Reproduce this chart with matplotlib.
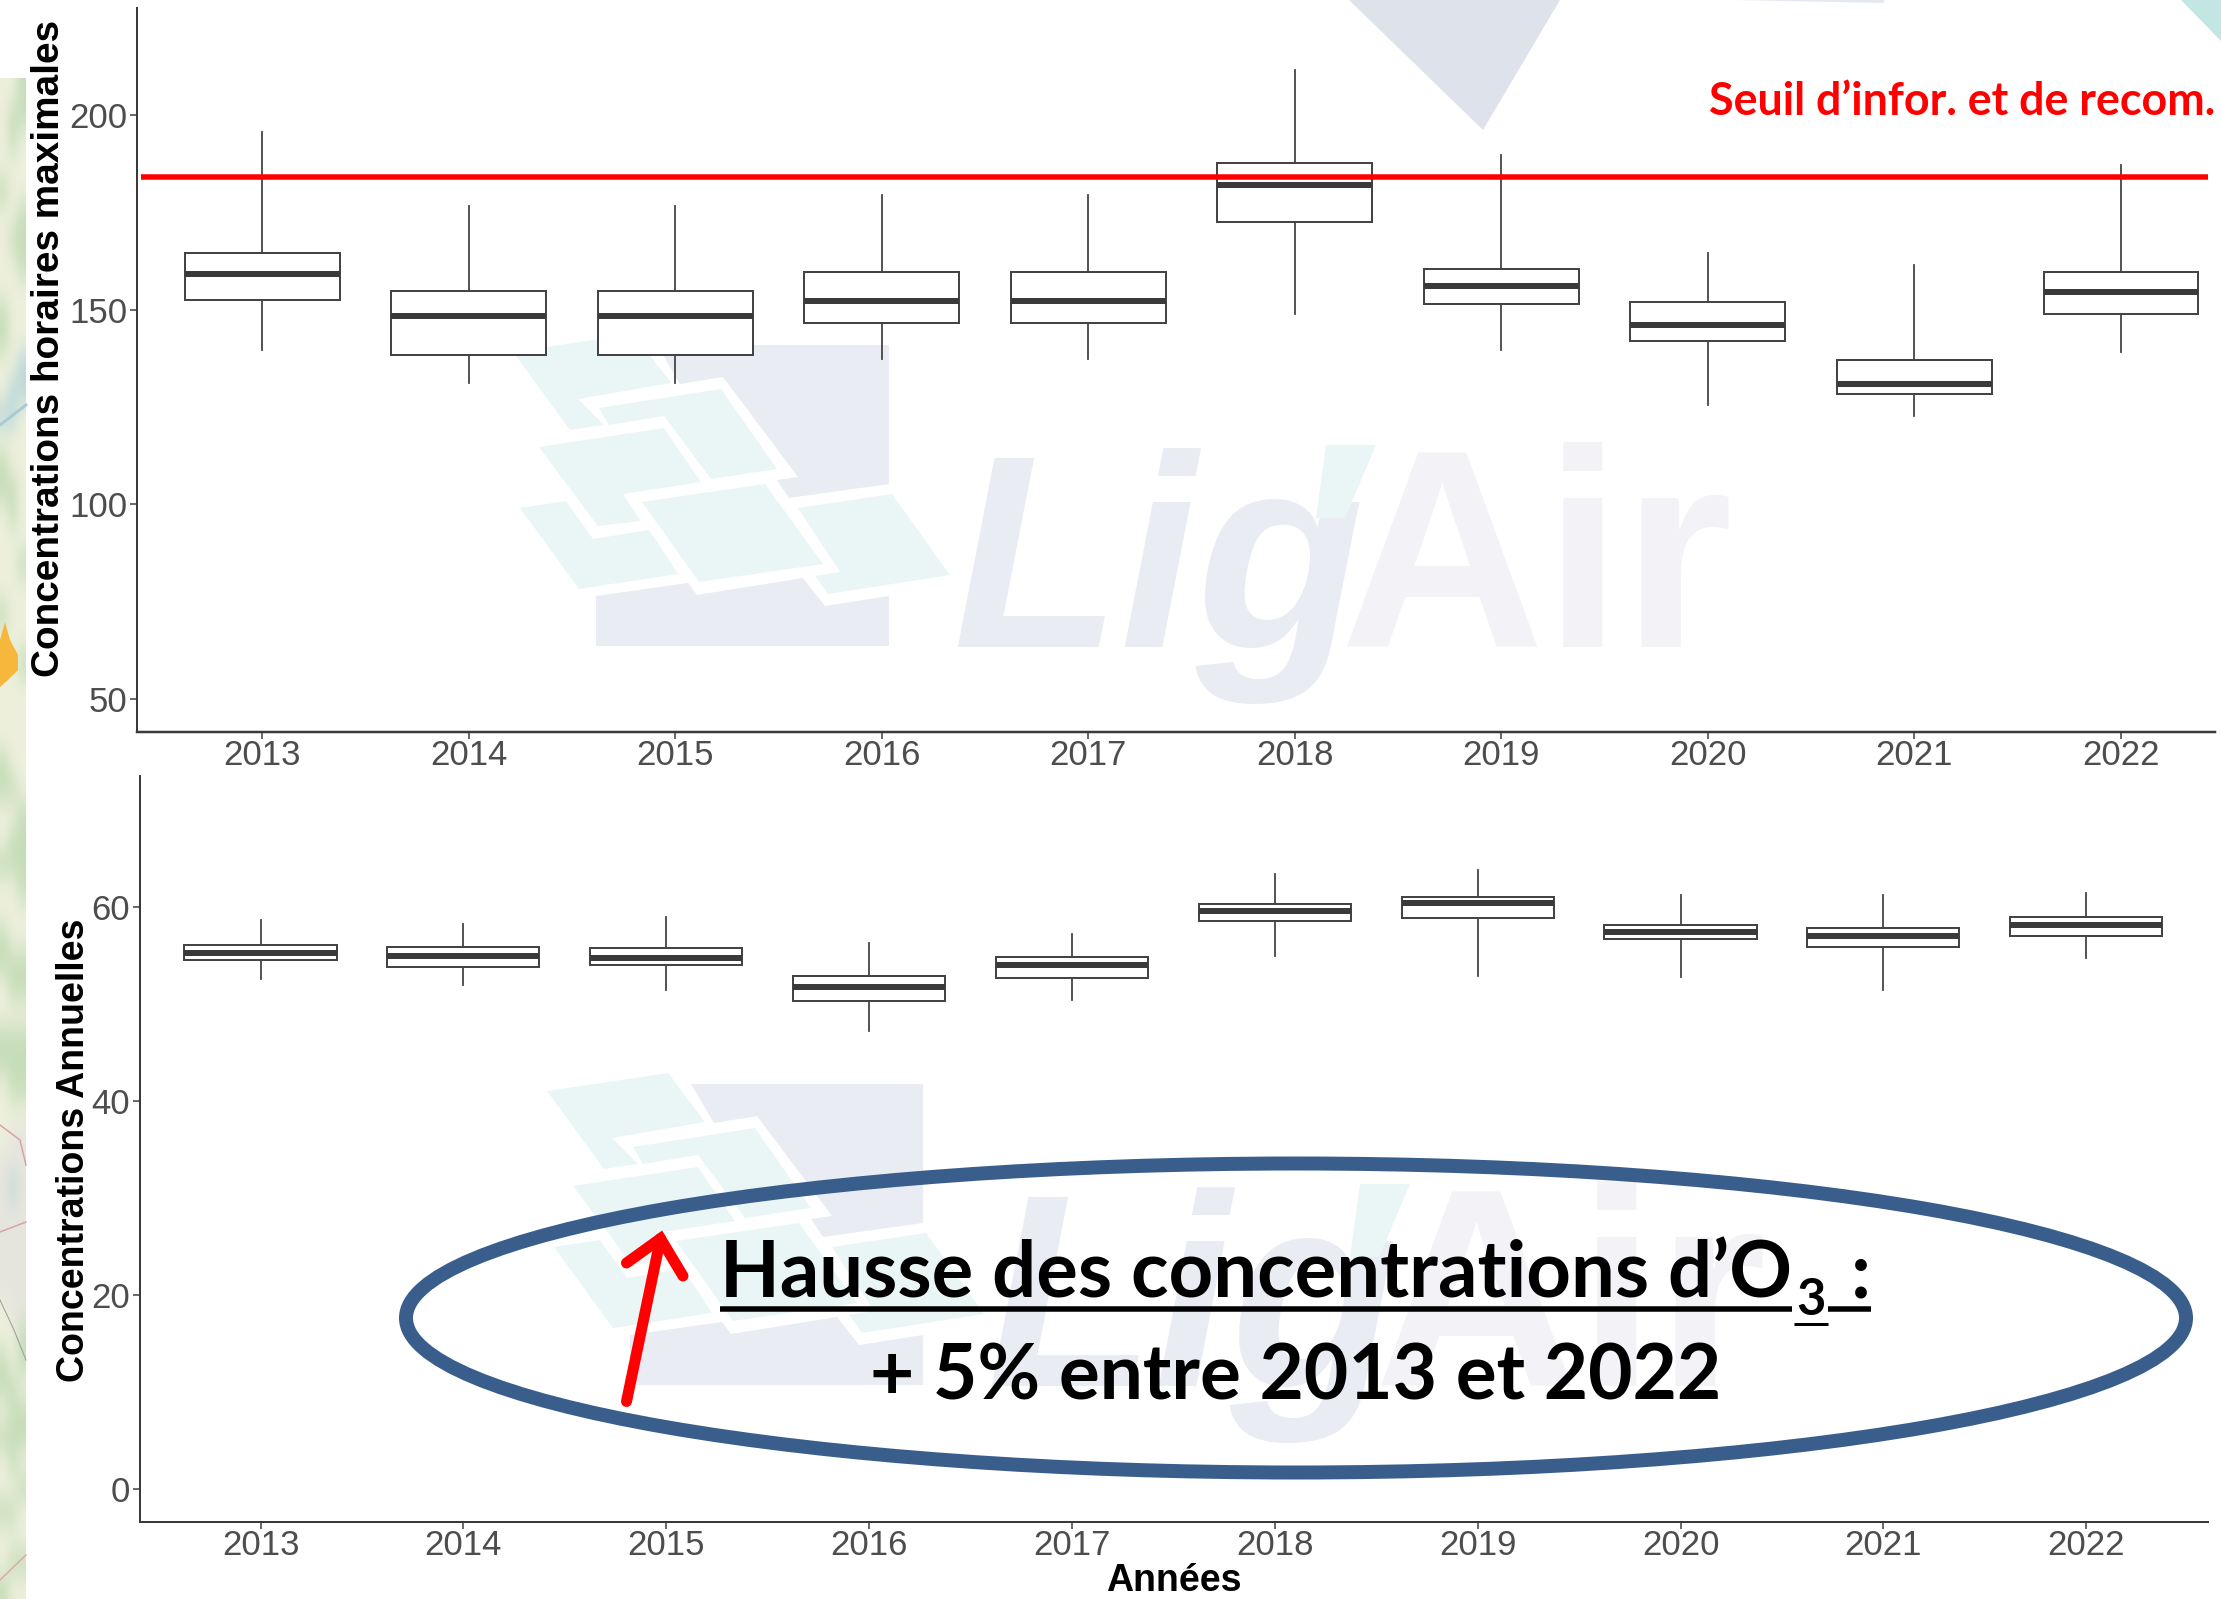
import matplotlib
matplotlib.use("Agg")
import matplotlib.pyplot as plt
import numpy as np
from matplotlib.patches import Ellipse, Polygon

# donnees
annees = ["2013", "2014", "2015", "2016", "2017", "2018", "2019", "2020", "2021", "2022"]

h_max = [195.6, 176.8, 176.8, 179.6, 179.6, 211.6, 189.8, 164.7, 161.5, 187.3]
h_q3 = [164.7, 154.8, 154.8, 159.7, 159.7, 187.7, 160.6, 152.0, 137.2, 159.7]
h_med = [159.3, 148.3, 148.3, 152.3, 152.3, 182.0, 156.0, 146.1, 130.9, 154.6]
h_q1 = [152.6, 138.3, 138.3, 146.5, 146.5, 172.5, 151.5, 141.9, 128.3, 148.9]
h_min = [139.7, 131.1, 131.1, 137.3, 137.3, 148.8, 139.7, 125.4, 122.6, 139.2]
seuil = 184.1

a_max = [58.65, 58.3, 59.0, 56.3, 57.2, 63.4, 63.8, 61.2, 61.2, 61.4]
a_q3 = [56.07, 55.9, 55.75, 52.9, 54.9, 60.3, 61.0, 58.1, 57.8, 59.0]
a_med = [55.26, 55.0, 54.8, 51.8, 54.0, 59.6, 60.4, 57.4, 57.0, 58.2]
a_q1 = [54.56, 53.8, 54.0, 50.3, 52.7, 58.6, 58.9, 56.7, 55.9, 57.0]
a_min = [52.6, 52.0, 51.5, 47.2, 50.4, 55.0, 52.9, 52.8, 51.5, 54.8]

# bandeau de carte a gauche : p = pale, v = vert, g = gris, b = bleu
carte = ["ppv", "pvv", "pvp", "ppp", "vpp", "ppv", "pvv", "ppv", "ppp", "vpp",
         "vpp", "ppb", "pbb", "bbp", "ppp", "vpp", "vvp", "pvp", "ppp", "ppv",
         "ppp", "vpp", "ppp", "ppv", "ppp", "ppp", "ppp", "vpp", "vvp", "ppv",
         "pvv", "vvv", "ppv", "ppp", "vpp", "vvv", "pvv", "ppp", "vvv", "vvv",
         "pvv", "ppp", "pgg", "ggg", "gbg", "ggg", "ggg", "ggg", "ggg", "pgg",
         "ppv", "vpv", "vvp", "pvv", "vvv", "pvp", "ppv", "vvp", "ppp", "pvv", "vpp"]

W, H = 2221, 1599
GRIS = "#3A3A3A"
TICK = "#4D4D4D"
NAVY = "#E9ECF3"
TEAL = "#EAF6F6"
px = 0.72  # 1 pixel en points a dpi=100

plt.rcParams["font.family"] = ["Liberation Sans", "DejaVu Sans"]
fig = plt.figure(figsize=(W / 100, H / 100), dpi=100, facecolor="white")


def axes_px(left, top, right, bottom):
    return fig.add_axes([left / W, 1 - bottom / H, (right - left) / W, (bottom - top) / H])


# fond : carte a gauche, filigrane, triangles du masque
fond = axes_px(0, 0, W, H)
fond.axis("off")
fond.set_zorder(0)

couleurs = {"p": (0.93, 0.94, 0.86), "v": (0.78, 0.87, 0.73), "g": (0.90, 0.90, 0.87), "b": (0.74, 0.85, 0.85)}
img = np.array([[couleurs[c] for c in ligne] for ligne in carte])
fond.imshow(img, extent=(0, 26, H, 78), aspect="auto", interpolation="bicubic", zorder=1)
fond.set_xlim(0, W)
fond.set_ylim(H, 0)

fond.plot([0, 26], [425, 405], color="#A9CBD2", lw=3 * px, zorder=3)
fond.plot([0, 26], [1232, 1222], color="#D9A0A8", lw=1.5 * px, zorder=3)
fond.plot([0, 20, 26], [1125, 1140, 1165], color="#D9A0A8", lw=1.5 * px, zorder=3)
fond.plot([0, 14, 26], [1300, 1330, 1360], color="#9A9A9A", lw=1 * px, zorder=3)
fond.plot([0, 26], [1580, 1555], color="#E0A8A8", lw=1.5 * px, zorder=3)
fond.add_patch(Polygon([(0, 640), (5, 622), (10, 640), (18, 655), (18, 670), (8, 680), (0, 687)],
                       color="#F5B73C", lw=0, zorder=3))

fond.add_patch(Polygon([(1349, 0), (1560, 0), (1483, 130)], color="#DDE2EB", lw=0))
fond.add_patch(Polygon([(2181, 0), (2221, 0), (2221, 41)], color="#C3E6E4", lw=0))
fond.add_patch(Polygon([(1733, 0), (1884, 0), (1884, 3)], color="#E4E8EF", lw=0))

# logo, coordonnees en pixels du logo du haut
navy_logo = [
    [(657, 345), (889, 345), (889, 484), (789, 498), (777, 480), (798, 477), (723, 377), (680, 384)],
    [(596, 596), (688, 583), (697, 595), (803, 578), (825, 606), (889, 596), (889, 646), (596, 646)],
]
tuiles = [
    [(513, 352), (634, 334), (671, 383), (578, 399), (604, 425), (570, 430)],
    [(599, 408), (721, 389), (777, 469), (711, 479), (664, 416), (609, 425)],
    [(539, 447), (664, 428), (701, 482), (623, 494), (641, 521), (598, 526)],
    [(520, 508), (566, 501), (593, 539), (649, 530), (678, 574), (579, 589)],
    [(642, 502), (765, 484), (823, 564), (699, 582)],
    [(798, 508), (892, 494), (950, 575), (828, 594), (815, 576), (840, 572)],
]
for dx, dy in [(0, 0), (34, 739)]:
    for pts in navy_logo:
        fond.add_patch(Polygon([(x + dx, y + dy) for x, y in pts], color=NAVY, lw=0))
    for pts in tuiles:
        fond.add_patch(Polygon([(x + dx, y + dy) for x, y in pts], color=TEAL, lw=0))
    fond.text(952 + dx, 647 + dy, "Lig", fontsize=198, color=NAVY, style="italic", weight="bold",
              family="Liberation Sans", va="baseline", ha="left")
    fond.add_patch(Polygon([(1326 + dx, 445 + dy), (1376 + dx, 445 + dy), (1345 + dx, 518 + dy), (1316 + dx, 518 + dy)],
                           color=TEAL, lw=0, zorder=4))
    fond.text(1340 + dx, 647 + dy, "Air", fontsize=204, color="#F2F2F7", weight="bold",
              family="Liberation Sans", va="baseline", ha="left", zorder=4)


def boites(ax, vmax, q3, med, q1, vmin):
    stats = []
    for i in range(len(annees)):
        stats.append(dict(whishi=vmax[i], q3=q3[i], med=med[i], q1=q1[i], whislo=vmin[i]))
    ax.bxp(stats, positions=range(len(annees)), widths=0.75, showfliers=False, showcaps=False,
           patch_artist=True,
           boxprops=dict(facecolor="white", edgecolor="#444444", linewidth=2 * px),
           medianprops=dict(color=GRIS, linewidth=6 * px, solid_capstyle="butt"),
           whiskerprops=dict(color="#444444", linewidth=1.8 * px))
    ax.patch.set_alpha(0)
    ax.set_xticks(range(len(annees)))
    ax.set_xticklabels(annees)
    for s in ["top", "right"]:
        ax.spines[s].set_visible(False)
    ax.tick_params(axis="both", labelsize=25, labelcolor=TICK, color=GRIS, length=5, width=1.5 * px, pad=2)
    ax.tick_params(axis="x", pad=0)


# graphique du haut
ax1 = axes_px(137, 8, 2215, 732)
ax1.set_zorder(1)
boites(ax1, h_max, h_q3, h_med, h_q1, h_min)
ax1.set_xlim(-0.606, 9.455)
ax1.set_ylim(41.4, 227.6)
ax1.set_yticks([50, 100, 150, 200])
ax1.spines["left"].set_linewidth(2 * px)
ax1.spines["bottom"].set_linewidth(2.5 * px)
ax1.spines["left"].set_color(GRIS)
ax1.spines["bottom"].set_color(GRIS)
ax1.plot([-0.585, 9.42], [seuil, seuil], color="#FF0000", lw=5.5 * px, zorder=6, solid_capstyle="butt")

# graphique du bas
ax2 = axes_px(140, 776, 2208, 1522)
ax2.set_zorder(1)
boites(ax2, a_max, a_q3, a_med, a_q1, a_min)
ax2.set_xlim(-0.594, 9.6)
ax2.set_ylim(-3.35, 73.5)
ax2.set_yticks([0, 20, 40, 60])
ax2.spines["left"].set_linewidth(2 * px)
ax2.spines["bottom"].set_linewidth(2 * px)
ax2.spines["left"].set_color(GRIS)
ax2.spines["bottom"].set_color(GRIS)

# textes et annotations par-dessus
dessus = axes_px(0, 0, W, H)
dessus.set_xlim(0, W)
dessus.set_ylim(H, 0)
dessus.axis("off")
dessus.set_zorder(5)

dessus.text(49, 348, "Concentrations horaires maximales", rotation=90, fontsize=27.9, weight="bold",
            va="center", ha="center", color="black")
dessus.text(74, 1150, "Concentrations Annuelles", rotation=90, fontsize=27, weight="bold",
            va="center", ha="center", color="black")
dessus.text(1174, 1581, "Années", fontsize=27, weight="bold", va="center", ha="center", color="black")

dessus.text(2215, 115, "Seuil d’infor. et de recom.", fontsize=32.3, weight="bold", family="Lato",
            color="#FF0000", ha="right", va="baseline")

dessus.add_patch(Ellipse((1296, 1318), 1780, 309, fill=False, edgecolor="#3A5E8C", lw=14 * px))

dessus.plot([626.5, 660.5], [1401.5, 1238.5], color="#FF0000", lw=11 * px, solid_capstyle="round")
dessus.plot([626.5, 660.5, 683], [1263, 1238.5, 1276], color="#FF0000", lw=11 * px,
            solid_capstyle="round", solid_joinstyle="miter")

fig.canvas.draw()
rend = fig.canvas.get_renderer()
TAILLE = 56
t1 = dessus.text(720, 1297, "Hausse des concentrations d’O", fontsize=TAILLE, weight="bold", family="Lato",
                 color="black", ha="left", va="baseline")
x1 = 720 + t1.get_window_extent(rend).width
t2 = dessus.text(x1 + 4, 1315, "3", fontsize=TAILLE * 0.65, weight="bold", family="Lato",
                 color="black", ha="left", va="baseline")
x2 = x1 + 4 + t2.get_window_extent(rend).width
t3 = dessus.text(x2 + 25, 1297, ":", fontsize=TAILLE, weight="bold", family="Lato",
                 color="black", ha="left", va="baseline")
x3 = x2 + 25 + t3.get_window_extent(rend).width
dessus.plot([720, x1], [1308.5, 1308.5], color="black", lw=5.5 * px, solid_capstyle="butt")
dessus.plot([x1 + 2, x2 + 2], [1324, 1324], color="black", lw=3 * px, solid_capstyle="butt")
dessus.plot([x2 + 2, x3], [1308.5, 1308.5], color="black", lw=5.5 * px, solid_capstyle="butt")
dessus.text(1296, 1400, "+ 5% entre 2013 et 2022", fontsize=TAILLE * 0.985, weight="bold", family="Lato",
            color="black", ha="center", va="baseline")
dessus.set_xlim(0, W)
dessus.set_ylim(H, 0)

fig.savefig("out.png", dpi=100)
